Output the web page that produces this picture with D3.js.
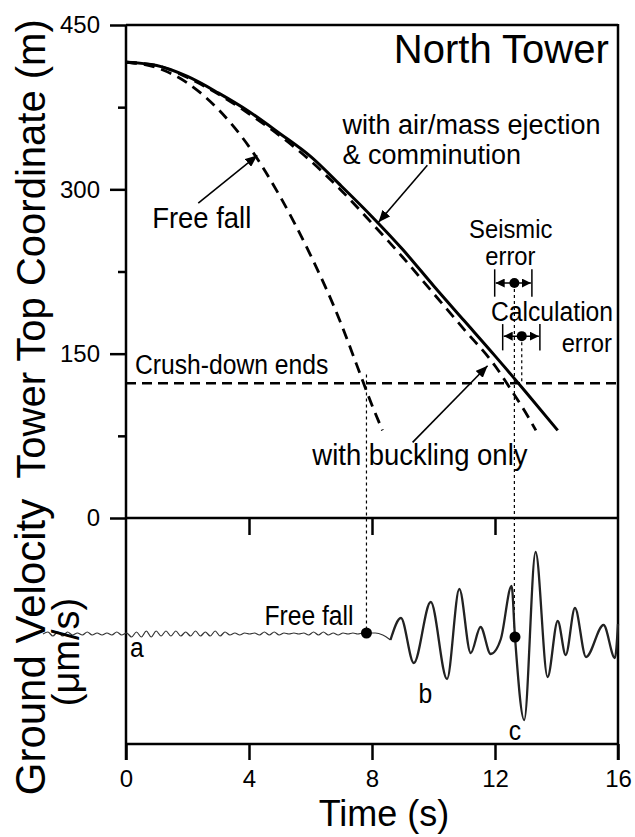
<!DOCTYPE html>
<html lang="en">
  <head>
    <meta charset="UTF-8" />
    <meta name="viewport" content="width=device-width, initial-scale=1.0" />
    <title>North Tower</title>
    <style>
      body {
        margin: 0;
        background: #fff;
      }
      svg {
        display: block;
        font-family: "Liberation Sans", Arial, sans-serif;
      }
      .tick text {
        font-family: "Liberation Sans", Arial, sans-serif;
        font-size: 24px;
        fill: #000;
      }
      .tick line {
        stroke: #000;
        stroke-width: 2.5;
      }
    </style>
    <script src="https://d3js.org/d3.v7.min.js"></script>
  </head>
  <body>
    <div id="chart"></div>

    <script>
      // ticks
      const timeTicks = [0, 4, 8, 12, 16];
      const heightTicks = [0, 150, 300, 450];
      const heightMinorTicks = [75, 225, 375];

      // tower top coordinate (m) vs time (s)
      const freeFall = [
        [0, 416], [1, 411], [2, 397], [3, 373], [4, 339], [5, 294],
        [6, 240], [7, 177], [7.5, 140], [8, 103], [8.34, 80],
      ];
      const withEjection = [
        [0, 416], [1, 413], [2, 403], [3, 388], [4, 371], [5, 351],
        [6, 330], [7, 303], [8, 275], [9, 245], [10, 212], [11, 180],
        [12, 148], [13, 115], [14.04, 80],
      ];
      const bucklingOnly = [
        [0, 416], [1, 413], [2, 402], [3, 387], [4, 369], [5, 349],
        [6, 326], [7, 299], [8, 269], [9, 238], [10, 205], [11, 172],
        [12, 139], [12.5, 118], [13, 96], [13.33, 80],
      ];
      const crushDownEnds = 123;

      // error bars: [center t, from t, to t, height, cap low, cap high]
      const seismicError = [12.63, 11.99, 13.2, 214.5, 202, 227];
      const calculationError = [12.87, 12.25, 13.46, 166, 153, 177];

      // ground velocity trace (arbitrary um/s units)
      const groundVelocity = [
        [-2.7, 0], [-2.54, 2], [-2.38, -2], [-2.22, 2], [-2.06, -2], [-1.9, 2],
        [-1.74, -1], [-1.58, 1], [-1.42, -1], [-1.26, 2], [-1.1, -1], [-0.94, 1],
        [-0.78, -1], [-0.62, 1], [-0.46, -1], [-0.3, 2], [-0.14, -1], [0.02, 1],
        [0.18, -3], [0.34, 2], [0.5, -3], [0.66, 3], [0.82, -3], [0.98, 3],
        [1.14, -2], [1.3, 3], [1.46, -2], [1.62, 3], [1.78, -2], [1.94, 2],
        [2.1, -2], [2.26, 3], [2.42, -2], [2.58, 2], [2.74, -2], [2.9, 3],
        [3.06, -2], [3.22, 2], [3.38, -1], [3.54, 1], [3.7, -1], [3.86, 1],
        [4.02, 0], [4.18, 1], [4.34, -1], [4.5, 2], [4.66, -1], [4.82, 2],
        [4.98, -1], [5.14, 1], [5.3, 0], [5.46, 1], [5.62, 0], [5.78, 1],
        [5.94, -1], [6.1, 2], [6.26, -1], [6.42, 2], [6.58, -1], [6.74, 1],
        [6.9, -1], [7.06, 1], [7.22, 0], [7.38, 1], [7.54, 0], [7.7, 1],
        [7.82, 1], [8.11, 1], [8.35, -1], [8.6, -6], [8.94, 16], [9.36, -29],
        [9.91, 32], [10.44, -45], [10.84, 45], [11.21, -19], [11.53, 7],
        [11.86, -20], [12.19, -5], [12.54, 48], [12.65, -3], [12.95, -86],
        [13.32, 82], [13.71, -43], [14.04, 13], [14.3, -21], [14.6, 26],
        [14.96, -23], [15.53, 9], [15.9, -24], [16.0, 10],
      ];
      const freeFallDot = [7.82, 1];
      const cDot = [12.65, -3];

      const W = 635, H = 837;
      const svg = d3.select("#chart").append("svg").attr("width", W).attr("height", H);

      const x = d3.scaleLinear().domain([0, 16]).range([126, 618]);
      const yTop = d3.scaleLinear().domain([0, 450]).range([518, 25]);
      const yBot = d3.scaleLinear().domain([-110, 116]).range([744, 518]);

      // arrow heads
      const defs = svg.append("defs");
      defs.append("marker")
        .attr("id", "arrow")
        .attr("viewBox", "0 0 12 10")
        .attr("refX", 12).attr("refY", 5)
        .attr("markerWidth", 12).attr("markerHeight", 10)
        .attr("markerUnits", "userSpaceOnUse")
        .attr("orient", "auto-start-reverse")
        .append("path").attr("d", "M0,0L12,5L0,10Z").attr("fill", "#000");
      defs.append("marker")
        .attr("id", "arrowSmall")
        .attr("viewBox", "0 0 10 10")
        .attr("refX", 10).attr("refY", 5)
        .attr("markerWidth", 9).attr("markerHeight", 9)
        .attr("markerUnits", "userSpaceOnUse")
        .attr("orient", "auto-start-reverse")
        .append("path").attr("d", "M0,0L10,5L0,10Z").attr("fill", "#000");

      // axes
      svg.append("g")
        .attr("transform", `translate(${x(0)},0)`)
        .call(d3.axisLeft(yTop).tickValues(heightTicks).tickSize(16).tickPadding(10).tickSizeOuter(0))
        .call((g) => g.select(".domain").remove());
      svg.append("g")
        .attr("transform", `translate(${x(0)},0)`)
        .call(d3.axisLeft(yTop).tickValues(heightMinorTicks).tickSize(8).tickFormat("").tickSizeOuter(0))
        .call((g) => g.select(".domain").remove());
      svg.append("g")
        .attr("transform", `translate(0,${yTop(0)})`)
        .call(d3.axisBottom(x).tickValues([4, 8, 12]).tickSize(17).tickFormat("").tickSizeOuter(0))
        .call((g) => g.select(".domain").remove());
      svg.append("g")
        .attr("transform", `translate(0,${yBot(-110)})`)
        .call(d3.axisBottom(x).tickValues(timeTicks).tickSize(16).tickPadding(10).tickSizeOuter(0))
        .call((g) => g.select(".domain").remove());

      // frame
      const frame = svg.append("g")
        .attr("stroke", "#000").attr("stroke-width", 2.5).attr("fill", "none");
      frame.append("line").attr("x1", x(0)).attr("x2", x(16)).attr("y1", yTop(450)).attr("y2", yTop(450));
      frame.append("line").attr("x1", x(0)).attr("x2", x(16)).attr("y1", yTop(0)).attr("y2", yTop(0));
      frame.append("line").attr("x1", x(0)).attr("x2", x(16)).attr("y1", yBot(-110)).attr("y2", yBot(-110));
      frame.append("line").attr("x1", x(0)).attr("x2", x(0)).attr("y1", yTop(450)).attr("y2", yBot(-110) + 16);
      frame.append("line").attr("x1", x(16)).attr("x2", x(16)).attr("y1", yTop(450) - 1).attr("y2", yBot(-110) + 16);

      // crush-down line
      svg.append("line")
        .attr("x1", x(0)).attr("x2", x(16))
        .attr("y1", yTop(crushDownEnds)).attr("y2", yTop(crushDownEnds))
        .attr("stroke", "#000").attr("stroke-width", 2.5).attr("stroke-dasharray", "10,6");

      // curves
      const lineTop = d3.line().x((d) => x(d[0])).y((d) => yTop(d[1])).curve(d3.curveMonotoneX);
      svg.append("path").datum(freeFall).attr("d", lineTop)
        .attr("fill", "none").attr("stroke", "#000").attr("stroke-width", 2.8).attr("stroke-dasharray", "11,7");
      svg.append("path").datum(bucklingOnly).attr("d", lineTop)
        .attr("fill", "none").attr("stroke", "#000").attr("stroke-width", 2.8).attr("stroke-dasharray", "11,7");
      svg.append("path").datum(withEjection).attr("d", lineTop)
        .attr("fill", "none").attr("stroke", "#000").attr("stroke-width", 3);

      // dotted drop lines
      const dotted = svg.append("g")
        .attr("stroke", "#000").attr("stroke-width", 1.2).attr("stroke-dasharray", "3,3");
      dotted.append("line")
        .attr("x1", x(freeFallDot[0])).attr("x2", x(freeFallDot[0]))
        .attr("y1", yTop(crushDownEnds + 8)).attr("y2", yBot(freeFallDot[1]));
      dotted.append("line")
        .attr("x1", x(seismicError[0])).attr("x2", x(seismicError[0]))
        .attr("y1", yTop(seismicError[3])).attr("y2", yBot(cDot[1]));
      dotted.append("line")
        .attr("x1", x(calculationError[0])).attr("x2", x(calculationError[0]))
        .attr("y1", yTop(calculationError[3])).attr("y2", yTop(crushDownEnds));

      // error bars
      [seismicError, calculationError].forEach((e) => {
        const g = svg.append("g").attr("stroke", "#000").attr("stroke-width", 1.5);
        g.append("line")
          .attr("x1", x(e[1]) + 1).attr("x2", x(e[2]) - 1)
          .attr("y1", yTop(e[3])).attr("y2", yTop(e[3]))
          .attr("marker-start", "url(#arrowSmall)").attr("marker-end", "url(#arrowSmall)");
        [e[1], e[2]].forEach((t) => {
          g.append("line")
            .attr("x1", x(t)).attr("x2", x(t))
            .attr("y1", yTop(e[4])).attr("y2", yTop(e[5]));
        });
        svg.append("circle").attr("cx", x(e[0])).attr("cy", yTop(e[3])).attr("r", 5).attr("fill", "#000");
      });

      // ground velocity trace
      const lineBot = d3.line().x((d) => x(d[0])).y((d) => yBot(d[1])).curve(d3.curveMonotoneX);
      svg.append("path").datum(groundVelocity.filter((d) => d[0] <= 8.6)).attr("d", lineBot)
        .attr("fill", "none").attr("stroke", "#333").attr("stroke-width", 1.2);
      svg.append("path").datum(groundVelocity.filter((d) => d[0] >= 8.6)).attr("d", lineBot)
        .attr("fill", "none").attr("stroke", "#222").attr("stroke-width", 2.3);
      [freeFallDot, cDot].forEach((d) => {
        svg.append("circle").attr("cx", x(d[0])).attr("cy", yBot(d[1])).attr("r", 5.5).attr("fill", "#000");
      });

      // annotation arrows
      const arrows = [
        [2.35, 287.5, 4.27, 331],
        [9.8, 322, 8.21, 270],
        [9.32, 69, 11.76, 139],
      ];
      arrows.forEach((a) => {
        svg.append("line")
          .attr("x1", x(a[0])).attr("y1", yTop(a[1]))
          .attr("x2", x(a[2])).attr("y2", yTop(a[3]))
          .attr("stroke", "#000").attr("stroke-width", 1.6)
          .attr("marker-end", "url(#arrow)");
      });

      // labels
      function label(t, v, str, size, anchor, ys, sx = 0.915) {
        svg.append("text")
          .attr("transform", `translate(${x(t)},${ys(v)}) scale(${sx},1)`)
          .attr("text-anchor", anchor)
          .style("font-size", size + "px")
          .text(str);
      }
      label(7.04, 350.5, "with air/mass ejection", 27, "start", yTop, 1.0);
      label(7.04, 322.8, "& comminution", 27, "start", yTop, 1.0);
      label(0.85, 264.7, "Free fall", 30, "start", yTop);
      label(12.51, 255.6, "Seismic", 26, "middle", yTop);
      label(12.5, 231, "error", 26, "middle", yTop);
      label(15.84, 180, "Calculation", 27, "end", yTop);
      label(15.8, 151.5, "error", 26, "end", yTop);
      label(0.29, 131.4, "Crush-down ends", 27, "start", yTop);
      label(6.06, 48.4, "with buckling only", 30, "start", yTop);
      label(4.5, 9, "Free fall", 27, "start", yBot);
      label(0.13, -23, "a", 27, "start", yBot);
      label(9.51, -69, "b", 27, "start", yBot);
      label(12.45, -106, "c", 27, "start", yBot);

      svg.append("text")
        .attr("x", x(15.7)).attr("y", yTop(415))
        .attr("text-anchor", "end")
        .style("font-size", "40px")
        .text("North Tower");

      // axis titles
      svg.append("text")
        .attr("transform", "translate(45,249) rotate(-90)")
        .attr("text-anchor", "middle")
        .style("font-size", "40px")
        .text("Tower Top Coordinate (m)");
      svg.append("text")
        .attr("transform", "translate(45,647) rotate(-90)")
        .attr("text-anchor", "middle")
        .style("font-size", "42px")
        .text("Ground Velocity");
      svg.append("text")
        .attr("transform", "translate(79,652) rotate(-90)")
        .attr("text-anchor", "middle")
        .style("font-size", "38px")
        .text("(μm/s)");
      svg.append("text")
        .attr("x", 384).attr("y", 826)
        .attr("text-anchor", "middle")
        .style("font-size", "36px")
        .text("Time (s)");
    </script>
  </body>
</html>
